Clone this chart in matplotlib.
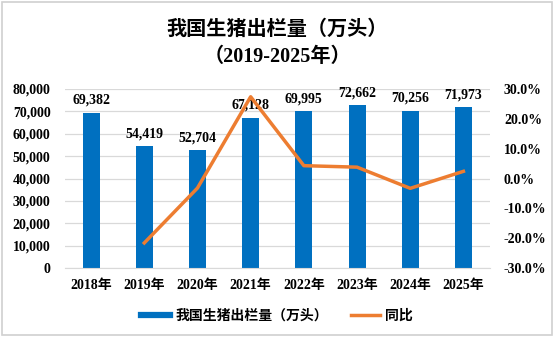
import numpy as np
import matplotlib.pyplot as plt
from matplotlib.patches import Rectangle
from matplotlib.lines import Line2D

years = ["2018年", "2019年", "2020年", "2021年", "2022年", "2023年", "2024年", "2025年"]
slaughter = [69382, 54419, 52704, 67128, 69995, 72662, 70256, 71973]
# year-on-year change (%), starting 2019
yoy = [-21.6, -3.2, 27.4, 4.3, 3.8, -3.3, 2.4]

FONT = ["Liberation Serif", "Noto Sans CJK SC"]
plt.rcParams["font.family"] = FONT
plt.rcParams["font.weight"] = "bold"
FS = 10

fig = plt.figure(figsize=(5.54, 3.37), dpi=100)
fig.patches.append(Rectangle((0.004, 0.006), 0.992, 0.988, transform=fig.transFigure,
                             fill=False, edgecolor="#D0D0D0", linewidth=1.2))

ax = fig.add_axes([64.5 / 554, 1 - 268 / 337, (490 - 64.5) / 554, (268 - 89) / 337])
x = np.arange(len(years))
ax.bar(x, slaughter, width=0.32, color="#0070C0", zorder=2, label="我国生猪出栏量（万头）")
for xi, v in zip(x, slaughter):
    ax.text(xi, v + 2600, f"{v:,}", ha="center", va="bottom", fontsize=FS,
            fontweight="bold", zorder=4)

ax.set_ylim(0, 80000)
ax.set_xlim(-0.5, len(years) - 0.5)
ax.set_yticks(np.arange(0, 80001, 10000))
ax.set_yticklabels([f"{t:,}" for t in range(0, 80001, 10000)], fontsize=FS, fontweight="bold")
ax.set_xticks(x)
ax.set_xticklabels(years, fontsize=FS, fontweight="bold")
ax.grid(axis="y", color="#D9D9D9", linewidth=0.9, zorder=0)
ax.tick_params(axis="y", length=0, pad=10)
ax.tick_params(axis="x", length=0, pad=8)
for s in ["top", "right", "left"]:
    ax.spines[s].set_visible(False)
ax.spines["bottom"].set_color("#D9D9D9")

ax2 = ax.twinx()
ax2.plot(x[1:], yoy, color="#ED7D31", linewidth=2.5, zorder=3, label="同比")
ax2.set_ylim(-30, 30)
ax2.set_yticks(np.arange(-30, 31, 10))
ax2.set_yticklabels([f"{t:.1f}%" for t in range(-30, 31, 10)], fontsize=FS, fontweight="bold")
ax2.tick_params(length=0, pad=10)
for s in ax2.spines.values():
    s.set_visible(False)

fig.text(0.5, 1 - 30 / 337, "我国生猪出栏量（万头）", ha="center", va="center",
         fontsize=14.5, fontweight="bold")
fig.text(0.5, 1 - 57 / 337, "（2019-2025年）", ha="center", va="center",
         fontsize=14.5, fontweight="bold")

h2, l2 = ax2.get_legend_handles_labels()
handles = [Line2D([], [], color="#0070C0", linewidth=4.5), h2[0]]
fig.legend(handles, ["我国生猪出栏量（万头）"] + l2, loc="center",
           bbox_to_anchor=(0.5, 1 - 316 / 337), ncol=2, frameon=False, fontsize=FS,
           handlelength=2.1, handletextpad=0.4, columnspacing=1.6)

fig.savefig("out.png", dpi=100)
